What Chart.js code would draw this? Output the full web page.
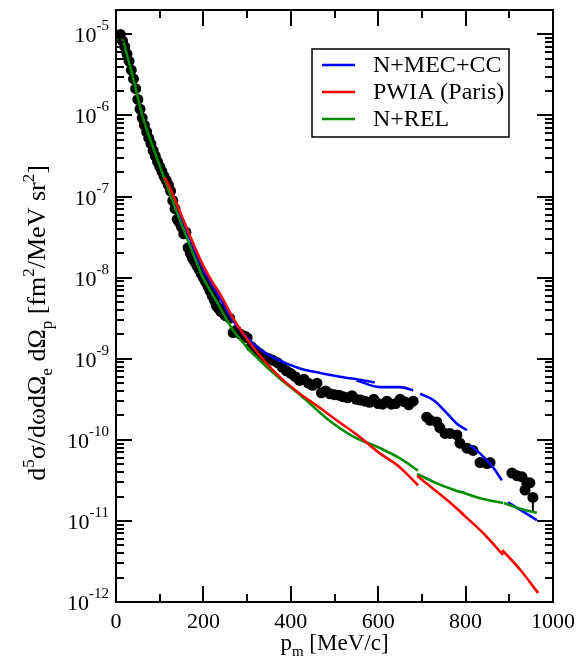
<!DOCTYPE html>
<html><head><meta charset="utf-8">
<script src="https://cdn.jsdelivr.net/npm/chart.js@4"></script>
<style>html,body{margin:0;padding:0;background:#fff}</style>
</head><body>
<canvas id="c" width="584" height="662"></canvas>
<script>
// ---------- data ----------
const dataP = [10,15,20,25,30,35,40,45,50,55,60,65,70,75,80,85,90,95,100,105,110,115,120,125,130,135,140,145,150,155,160,165,170,175,180,185,190,195,200,205,210,215,220,225,230,235,240,250,260,268,275,285,295,300,310,320,330,340,350,360,370,380,390,400,410,420,430,440,450,460,470,480,490,500,510,520,530,540,550,560,570,580,590,600,610,620,630,640,650,660,670,680,711,719,734,741,753,764,780,787,803,817,833,849,856,906,918,929,940,947,936,954];
const dataV = [1.0e-5,8.3e-6,7.08e-6,5.75e-6,4.68e-6,3.63e-6,2.82e-6,2.14e-6,1.58e-6,1.2e-6,9.3e-7,7.6e-7,6.3e-7,5.25e-7,4.47e-7,3.7e-7,3.16e-7,2.7e-7,2.34e-7,2.04e-7,1.78e-7,1.58e-7,1.38e-7,1.17e-7,8.9e-8,7.1e-8,5.25e-8,4.8e-8,4.2e-8,3.47e-8,3.63e-8,2.34e-8,2.0e-8,1.74e-8,1.58e-8,1.41e-8,1.26e-8,1.12e-8,1.0e-8,8.9e-9,7.9e-9,6.9e-9,6.0e-9,5.25e-9,4.47e-9,4.17e-9,3.8e-9,3.4e-9,3.16e-9,2.1e-9,2.24e-9,2.0e-9,1.9e-9,1.82e-9,1.41e-9,1.26e-9,1.15e-9,1.05e-9,1.0e-9,9.5e-10,8.9e-10,7.9e-10,7.1e-10,6.6e-10,6.0e-10,5.4e-10,5.6e-10,5.0e-10,4.7e-10,5.0e-10,3.8e-10,4.0e-10,3.7e-10,3.6e-10,3.55e-10,3.4e-10,3.3e-10,3.5e-10,3.16e-10,3.1e-10,3.0e-10,2.9e-10,3.16e-10,2.8e-10,2.75e-10,3.0e-10,2.75e-10,2.8e-10,3.16e-10,2.95e-10,2.7e-10,3.0e-10,1.9e-10,1.74e-10,1.66e-10,1.41e-10,1.2e-10,1.2e-10,1.15e-10,9.1e-11,7.9e-11,7.4e-11,5.25e-11,5.1e-11,5.25e-11,3.9e-11,3.6e-11,3.5e-11,2.95e-11,2.95e-11,2.4e-11,1.95e-11];
const errBar = [[954,1.95e-11],[954,1.26e-11]];

// N+MEC+CC (blue) pieces
const mec1 = [[112,1.7e-7],[160,4.0e-8],[200,1.26e-8],[238,5.6e-9],[268,2.95e-9],[307,1.66e-9],[345,1.15e-9],[391,8.7e-10],[421,7.6e-10],[460,6.8e-10],[497,6.2e-10],[520,5.9e-10],[551,5.6e-10],[592,5.1e-10]];
const mec2 = [[551,5.4e-10],[604,4.47e-10],[650,4.47e-10],[680,4.1e-10]];
const mec3 = [[696,3.7e-10],[726,3.1e-10],[757,2.14e-10],[780,1.58e-10],[803,1.32e-10]];
const mec4 = [[810,8.5e-11],[833,6.8e-11],[863,4.57e-11],[883,3.16e-11]];
const mec5 = [[897,1.7e-11],[963,1.02e-11]];

// PWIA (Paris) (red) pieces
const pwia1 = [[112,1.7e-7],[124,1.26e-7],[140,7.9e-8],[162,4.07e-8],[180,2.4e-8],[197,1.5e-8],[220,8.9e-9],[238,6.3e-9],[268,3.16e-9],[307,1.55e-9],[345,8.7e-10],[380,5.6e-10],[421,3.7e-10],[460,2.63e-10],[505,1.74e-10],[550,1.17e-10],[604,6.8e-11],[650,4.57e-11],[691,2.75e-11]];
const pwia2 = [[689,3.6e-11],[720,2.63e-11],[757,1.82e-11],[795,1.2e-11]];
const pwia3 = [[790,1.26e-11],[840,7.1e-12],[886,3.8e-12]];
const pwia4 = [[884,4.37e-12],[925,2.5e-12],[966,1.29e-12]];

// N+REL (green) pieces
const rel1 = [[14,9.3e-6],[40,2.8e-6],[60,1.0e-6],[80,4.8e-7],[100,2.4e-7],[124,1.07e-7],[140,6.3e-8],[162,3.1e-8],[180,1.78e-8],[199,1.0e-8],[220,6.3e-9],[238,4.27e-9],[268,2.24e-9],[307,1.26e-9],[345,7.9e-10],[380,5.4e-10],[421,3.6e-10],[483,1.82e-10],[540,1.12e-10],[604,7.9e-11],[650,5.9e-11],[691,4.17e-11]];
const rel2 = [[689,3.8e-11],[740,2.82e-11],[791,2.24e-11]];
const rel3 = [[787,2.3e-11],[840,1.86e-11],[886,1.66e-11]];
const rel4 = [[888,1.66e-11],[925,1.41e-11],[963,1.26e-11]];

const xMajor = [0,200,400,600,800,1000];
const xMinor = [100,300,500,700,900];
const yExponents = [-12,-11,-10,-9,-8,-7,-6,-5];
const yMinorMult = [2,3,4,5,6,7,8,9];
const legendNames = ['N+MEC+CC','PWIA (Paris)','N+REL'];
const legendColors = ['#0000ff','#ff0000','#008c00'];

// ---------- build datasets ----------
const pts = a => a.map(([x,y]) => ({x,y}));
const lineDs = (arr, color, order) => ({
  type:'line', data: pts(arr), borderColor: color, borderWidth: 2.6,
  pointRadius: 0, fill: false, tension: 0, cubicInterpolationMode: 'monotone', order
});
const datasets = [];
[pwia1,pwia2,pwia3,pwia4].forEach(s => datasets.push(lineDs(s, legendColors[1], 1)));
[rel1,rel2,rel3,rel4].forEach(s => datasets.push(lineDs(s, legendColors[2], 2)));
[mec1,mec2,mec3,mec4,mec5].forEach(s => datasets.push(lineDs(s, legendColors[0], 3)));
datasets.push({type:'line', data: pts(errBar), borderColor:'#000', borderWidth:2, pointRadius:0, order:9});
datasets.push({type:'scatter', data: dataP.map((p,i)=>({x:p,y:dataV[i]})), backgroundColor:'#000', borderWidth:0, pointRadius:5.5, order:10});

const FONT = "'Liberation Serif','Times New Roman',serif";

function richWidth(ctx, pieces, size){
  let w=0;
  for (const [t,m] of pieces){ ctx.font = (m==='n'?size:Math.round(size*0.65))+'px '+FONT; w+=ctx.measureText(t).width; }
  return w;
}
function drawRich(ctx, pieces, x, y, size){
  let cx=x;
  for (const [t,m] of pieces){
    const s = m==='n'?size:Math.round(size*0.65);
    ctx.font = s+'px '+FONT;
    const dy = m==='sup' ? -size*0.42 : (m==='sub' ? size*0.28 : 0);
    ctx.fillText(t, cx, y+dy);
    cx += ctx.measureText(t).width;
  }
}

const frame = {
  id:'frame',
  afterDatasetsDraw(chart){
    const {ctx, chartArea:a, scales:{x,y}} = chart;
    ctx.save();
    ctx.strokeStyle='#000'; ctx.lineWidth=2; ctx.lineCap='butt';
    const seg=(x1,y1,x2,y2)=>{ctx.beginPath();ctx.moveTo(x1,y1);ctx.lineTo(x2,y2);ctx.stroke();};
    const MAJ=16, MIN=8;
    xMajor.forEach(v=>{const px=Math.round(x.getPixelForValue(v)); seg(px,a.bottom,px,a.bottom-MAJ); seg(px,a.top,px,a.top+MAJ);});
    xMinor.forEach(v=>{const px=Math.round(x.getPixelForValue(v)); seg(px,a.bottom,px,a.bottom-MIN); seg(px,a.top,px,a.top+MIN);});
    yExponents.forEach(e=>{
      const py=Math.round(y.getPixelForValue(Math.pow(10,e)));
      seg(a.left,py,a.left+MAJ,py); seg(a.right,py,a.right-MAJ,py);
      yMinorMult.forEach(m=>{
        const v=m*Math.pow(10,e); if (v>y.max*1.0001) return;
        const q=Math.round(y.getPixelForValue(v));
        seg(a.left,q,a.left+MIN,q); seg(a.right,q,a.right-MIN,q);
      });
    });
    ctx.strokeRect(a.left,a.top,a.right-a.left,a.bottom-a.top);

    // tick labels
    ctx.fillStyle='#000';
    ctx.font='22px '+FONT; ctx.textAlign='center'; ctx.textBaseline='alphabetic';
    xMajor.forEach(v=>ctx.fillText(String(v), x.getPixelForValue(v), a.bottom+26));
    yExponents.forEach(e=>{
      const py=y.getPixelForValue(Math.pow(10,e));
      const ex = '-'+String(-e);
      ctx.textAlign='right';
      ctx.font='15px '+FONT; ctx.fillText(ex, a.left-7, py-4);
      const ew = ctx.measureText(ex).width;
      ctx.font='22px '+FONT; ctx.fillText('10', a.left-7-ew, py+8);
    });

    // x title
    ctx.textAlign='left';
    const xt=[['p','n'],['m','sub'],[' [MeV/c]','n']];
    const xw=richWidth(ctx,xt,23);
    drawRich(ctx,xt,(a.left+a.right)/2-xw/2,a.bottom+48,23);

    // y title
    const yt=[['d','n'],['5','sup'],['σ/dωdΩ','n'],['e','sub'],[' dΩ','n'],['p','sub'],[' [fm','n'],['2','sup'],['/MeV sr','n'],['2','sup'],[']','n']];
    const yw=richWidth(ctx,yt,26);
    ctx.save(); ctx.translate(45,323); ctx.rotate(-Math.PI/2);
    drawRich(ctx,yt,-yw/2,0,26); ctx.restore();

    // legend
    const bx=a.left+196, by=a.top+39, bw=197, bh=88;
    ctx.fillStyle='#fff'; ctx.fillRect(bx,by,bw,bh);
    ctx.lineWidth=1.5; ctx.strokeStyle='#000'; ctx.strokeRect(bx,by,bw,bh);
    legendNames.forEach((n,i)=>{
      const ly=by+16+i*27;
      ctx.strokeStyle=legendColors[i]; ctx.lineWidth=2.6; seg(bx+10,ly,bx+43,ly);
      ctx.fillStyle='#000'; ctx.font='24px '+FONT; ctx.textAlign='left'; ctx.textBaseline='middle';
      ctx.fillText(n,bx+61,ly+1);
    });
    ctx.restore();
  }
};

new Chart(document.getElementById('c'), {
  type:'scatter',
  data:{datasets},
  options:{
    responsive:false, animation:false, devicePixelRatio:1,
    layout:{padding:{left:116,right:31,top:10,bottom:60}},
    plugins:{legend:{display:false}, tooltip:{enabled:false}},
    scales:{
      x:{type:'linear', min:0, max:1000, display:false},
      y:{type:'logarithmic', min:1e-12, max:2e-5, display:false}
    }
  },
  plugins:[frame]
});
</script>
</body></html>
